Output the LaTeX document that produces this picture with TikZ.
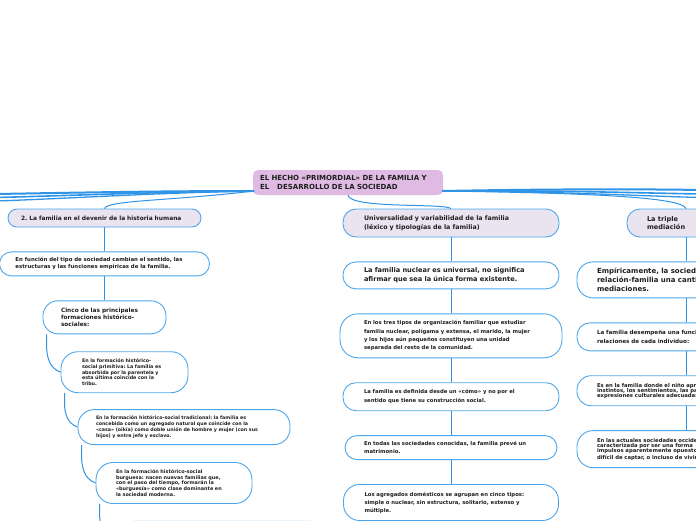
\documentclass[tikz,border=0pt]{standalone}
\usepackage{fontspec}
\setmainfont{DejaVu Sans}
\usetikzlibrary{positioning}
\definecolor{mmline}{HTML}{2F93E6}
\definecolor{mmborder}{HTML}{4DA6EA}
\definecolor{mmlav}{HTML}{EAE4F1}
\definecolor{mmroot}{HTML}{DFBBE3}
\definecolor{mmtext}{HTML}{1E1E1E}
\newcommand{\mmfs}[2]{\fontsize{#1}{#2}\selectfont}
\frenchspacing

\begin{document}
\begin{tikzpicture}[x=1pt, y=-1pt, node distance=24pt,
		topic node/.style={draw=mmborder, line width=0.9pt, fill=white, rounded corners=12pt,
			align=left, inner ysep=2pt, text=mmtext},
		branch node/.style={topic node, fill=mmlav},
		root node/.style={fill=mmroot, rounded corners=5pt, inner xsep=7pt, inner ysep=2pt,
			align=left, text=mmtext, font=\bfseries\mmfs{7}{9}},
		link/.style={draw=mmline, line width=1pt},
		trunk/.style={draw=mmline, line width=2pt}]
	
	\useasboundingbox (0,0) rectangle (696,520);
	\clip (0,0) rectangle (696,520);
	
	% root
	\node[root node, text width=176pt, minimum height=25pt] (root) at (348,182.5)
	{EL HECHO «PRIMORDIAL» DE LA FAMILIA Y\\EL\hspace{8pt}DESARROLLO DE LA SOCIEDAD};
	
	% left column
	\node[branch node, rounded corners=9pt, text width=167pt, inner xsep=13pt, minimum height=18pt,
		font=\bfseries\mmfs{5.9}{7}] (br2) at (104.5,218)
	{2. La familia en el devenir de la historia humana};
	\node[topic node, text width=178pt, inner xsep=16pt, minimum height=24pt,
		font=\bfseries\mmfs{5.4}{7}] (funcion) [below=of br2]
	{En función del tipo de sociedad cambian el sentido, las\\estructuras y las funciones empíricas de la familia.};
	\node[topic node, rounded corners=15pt, text width=87pt, inner xsep=18pt, minimum height=33pt,
		font=\bfseries\mmfs{5.8}{7.3}] (cinco) [below=of funcion]
	{Cinco de las principales\\formaciones histórico-\\sociales:};
	\node[topic node, rounded corners=17pt, text width=85pt, inner xsep=21pt, minimum height=41pt,
		font=\bfseries\mmfs{4.8}{5.8}, anchor=north west] (prim) at ([shift={(18,17)}]cinco.south west)
	{En la formación histórico-\\social primitiva: La familia es\\absorbida por la parentela y\\esta última coincide con la\\tribu.};
	\node[topic node, rounded corners=16pt, text width=176pt, inner xsep=18pt, minimum height=35pt,
		font=\bfseries\mmfs{4.75}{5.8}, anchor=north west] (trad) at ([shift={(17,16)}]prim.south west)
	{En la formación histórico-social tradicional: la familia es\\concebida como un agregado natural que coincide con la\\«casa» (oikía) como doble unión de hombre y mujer (con sus\\hijos) y entre jefe y esclavo.};
	\node[topic node, rounded corners=17pt, text width=116pt, inner xsep=20pt, minimum height=41pt,
		font=\bfseries\mmfs{4.9}{5.8}, anchor=north west] (burg) at ([shift={(18,17)}]trad.south west)
	{En la formación histórico-social\\burguesa: nacen nuevas familias que,\\con el paso del tiempo, formarán la\\«burguesía» como clase dominante en\\la sociedad moderna.};
	\node[topic node, rounded corners=17pt, minimum width=210pt, minimum height=40pt,
		anchor=north west] (quinta) at ([shift={(21,17)}]burg.south west) {};
	
	% middle column
	\node[branch node, rounded corners=13pt, text width=174pt, inner xsep=21pt, minimum height=28pt,
		font=\bfseries\mmfs{6.3}{8.7}] (univ) at (451,223)
	{Universalidad y variabilidad de la familia\\(léxico y tipologías de la familia)};
	\node[topic node, rounded corners=13pt, text width=174pt, inner xsep=21pt, minimum height=27pt,
		font=\bfseries\mmfs{6.6}{9}] (nuclear) [below=of univ]
	{La familia nuclear es universal, no significa\\afirmar que sea la única forma existente.};
	\node[topic node, rounded corners=18pt, text width=174pt, inner xsep=24pt, minimum height=44pt,
		font=\bfseries\mmfs{5.3}{8.3}] (tres) [below=of nuclear]
	{En los tres tipos de organización familiar que estudiar\\familia nuclear, polígama y extensa, el marido, la mujer\\y los hijos aún pequeños constituyen una unidad\\separada del resto de la comunidad.};
	\node[topic node, rounded corners=13pt, text width=174pt, inner xsep=21pt, minimum height=28pt,
		font=\bfseries\mmfs{5.3}{9.3}] (como) [below=of tres]
	{La familia es definida desde un «cómo» y no por el\\sentido que tiene su construcción social.};
	\node[topic node, text width=174pt, inner xsep=19pt, minimum height=24pt,
		font=\bfseries\mmfs{5.3}{7.7}] (todas) [below=of como]
	{En todas las sociedades conocidas, la familia prevé un\\matrimonio.};
	\node[topic node, rounded corners=16pt, text width=173pt, inner xsep=21pt, minimum height=36pt,
		font=\bfseries\mmfs{5.3}{8}] (agreg) [below=of todas]
	{Los agregados domésticos se agrupan en cinco tipos:\\simple o nuclear, sin estructura, solitario, extenso y\\múltiple.};
	\coordinate (agregsig) at (451,535);
	
	% right column
	\node[branch node, rounded corners=13pt, text width=78pt, inner xsep=20pt, minimum height=28pt,
		font=\bfseries\mmfs{6.6}{8}] (triple) at (686,223)
	{La triple\\mediación};
	\node[topic node, rounded corners=16pt, text width=178pt, inner xsep=20pt, minimum height=36pt,
		font=\bfseries\mmfs{7}{8.8}] (empir) [below=of triple]
	{Empíricamente, la sociedad\\relación-familia una cantidad\\mediaciones.};
	\node[topic node, rounded corners=13pt, text width=178pt, inner xsep=20pt, minimum height=28pt,
		font=\bfseries\mmfs{5.6}{9.3}] (desemp) [below=of empir]
	{La familia desempeña una función\\relaciones de cada individuo:};
	\node[topic node, rounded corners=14pt, text width=178pt, inner xsep=20pt, minimum height=30pt,
		font=\bfseries\mmfs{5.3}{5.2}] (nino) [below=of desemp]
	{Es en la familia donde el niño aprende\\instintos, los sentimientos, las pasiones\\expresiones culturales adecuadas};
	\node[topic node, rounded corners=16pt, text width=178pt, inner xsep=20pt, minimum height=37pt,
		font=\bfseries\mmfs{5.3}{5.3}] (actual) [below=of nino]
	{En las actuales sociedades occidentales\\caracterizada por ser una forma\\impulsos aparentemente opuestos\\difícil de captar, o incluso de vivir};
	
	% trunk lines off the page
	\coordinate (rootL) at (254,191);
	\coordinate (rootR) at (442,191);
	\coordinate (offL1) at (-5,194);
	\coordinate (offL2) at (-5,197.5);
	\coordinate (offL3) at (-5,201);
	\coordinate (offR1) at (701,190);
	\coordinate (offR2) at (701,194);
	\coordinate (offR3) at (701,197.5);
	
	\draw[trunk] (rootL) .. controls (150,191) and (60,193) .. (offL1);
	\draw[trunk, line width=1.6pt] (rootL) .. controls (150,192) and (60,196) .. (offL2);
	\draw[trunk, line width=1.3pt] (rootL) .. controls (150,193) and (60,199) .. (offL3);
	\draw[trunk] (rootR) .. controls (550,189) and (640,189) .. (offR1);
	\draw[trunk, line width=1.6pt] (rootR) .. controls (550,190) and (640,193) .. (offR2);
	\draw[trunk, line width=1.3pt] (rootR) .. controls (550,191) and (640,196) .. (offR3);
	
	% branches
	\draw[link] (rootL) .. controls (170,201) and (108,200) .. (br2.north);
	\draw[link] (root.south) .. controls (350,209) and (445,203) .. (univ.north);
	\draw[link] (rootR) .. controls (570,193) and (682,196) .. (triple.north);
	
	\path[link]
	(br2) edge (funcion)
	(funcion) edge (cinco)
	(univ) edge (nuclear)
	(nuclear) edge (tres)
	(tres) edge (como)
	(como) edge (todas)
	(todas) edge (agreg)
	(agreg) edge (agregsig)
	(triple) edge (empir)
	(empir) edge (desemp)
	(desemp) edge (nino)
	(nino) edge (actual);
	
	% staircase of the formaciones
	\draw[link] ([xshift=4pt]cinco.south west) -- ++(0,10) to[out=-90, in=160] (prim.west);
	\draw[link] ([xshift=4pt]prim.south west) -- ++(0,10) to[out=-90, in=160] (trad.west);
	\draw[link] ([xshift=4pt]trad.south west) -- ++(0,10) to[out=-90, in=160] (burg.west);
	\draw[link] ([xshift=4pt]burg.south west) -- ++(0,10) to[out=-90, in=160] (quinta.west);
	
\end{tikzpicture}
\end{document}
